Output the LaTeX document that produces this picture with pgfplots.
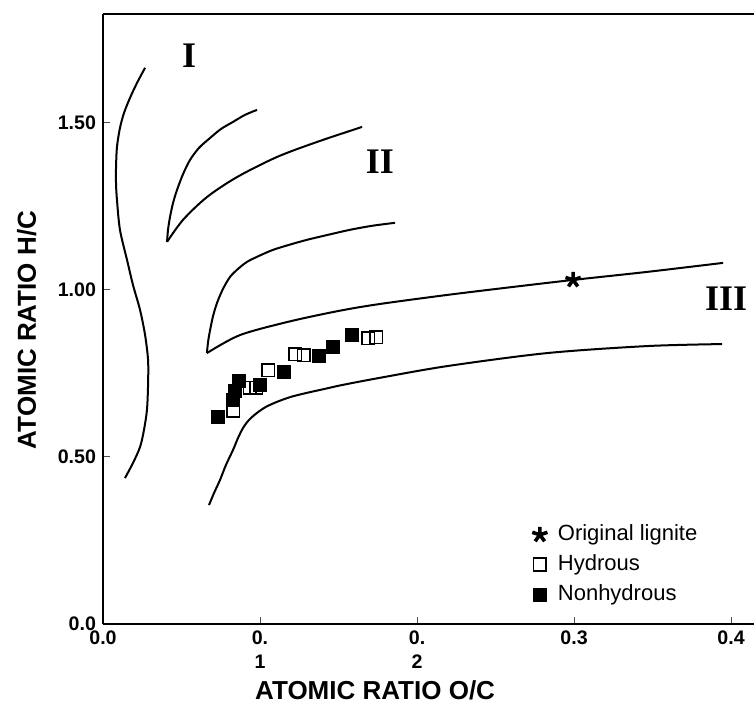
\documentclass[border=0pt]{standalone}
\usepackage{fontspec}
\setmainfont{Liberation Sans}
\newfontfamily\romfont{Liberation Serif}
\usepackage{pgfplots}
\pgfplotsset{compat=1.18}
\begin{document}
\begin{tikzpicture}
\useasboundingbox (-51.5pt,-42.5pt) rectangle (325.5pt,312pt);
\begin{axis}[
 scale only axis, width=325.5pt, height=305pt,
 xmin=0, xmax=0.4146, ymin=0, ymax=1.826,
 axis x line*=box, axis y line*=left,
 axis line style={line width=1.3pt},
 tick pos=left, tick align=inside, major tick length=3.5pt,
 tick style={line width=0.5pt, black!70},
 xtick={0,0.1,0.2,0.3,0.4}, xticklabels={0.0,{0.\\1},{0.\\2},0.3,0.4},
 ytick={0,0.5,1,1.5}, yticklabels={0.0,0.50,1.00,1.50},
 x tick label style={align=center, font=\fontsize{9.8}{12}\selectfont\bfseries},
 y tick label style={font=\fontsize{9.8}{12}\selectfont\bfseries},
 xlabel={ATOMIC RATIO O/C}, ylabel={ATOMIC RATIO H/C},
 label style={font=\fontsize{13}{15}\selectfont\bfseries},
 xlabel style={at={(axis description cs:0.418,-0.108)}, anchor=center},
 ylabel style={at={(axis description cs:-0.117,0.482)}, anchor=center},
 legend style={at={(axis description cs:0.641,0.174)}, anchor=north west, draw=none, fill=none,
   font=\fontsize{11}{13}\selectfont, row sep=2.5pt,
   nodes={inner sep=1pt, text height=8pt, text depth=2.5pt}},
 legend cell align=left,
 legend image code/.code={\path (0,0) (0.45cm,0); \draw[mark repeat=1,#1] plot coordinates {(0.2cm,0cm)};},
 clip=false,
]
% curves
\addplot[smooth, tension=0.5, line width=1pt, forget plot] coordinates {
(0.0268,1.665) (0.0217,1.620) (0.0172,1.575) (0.0134,1.530) (0.0108,1.485) (0.0089,1.428) (0.0083,1.368) (0.0083,1.317) (0.0089,1.269) (0.0108,1.180) (0.0153,1.090) (0.0191,1.015) (0.0236,0.940) (0.0268,0.865) (0.0287,0.790) (0.0287,0.716) (0.0280,0.641) (0.0261,0.581) (0.0236,0.530) (0.0191,0.482) (0.0140,0.437)};
\addplot[smooth, tension=0.5, line width=1pt, forget plot] coordinates {
(0.0408,1.144) (0.0414,1.180) (0.0427,1.219) (0.0446,1.260) (0.0471,1.299) (0.0510,1.347) (0.0554,1.389) (0.0611,1.425) (0.0682,1.455) (0.0752,1.482) (0.0828,1.503) (0.0904,1.524) (0.0981,1.539)};
\addplot[smooth, tension=0.5, line width=1pt, forget plot] coordinates {
(0.0408,1.144) (0.0510,1.210) (0.0662,1.278) (0.0854,1.338) (0.1108,1.398) (0.1363,1.443) (0.1650,1.488)};
\addplot[smooth, tension=0.5, line width=1pt, forget plot] coordinates {
(0.0662,0.811) (0.0669,0.844) (0.0682,0.880) (0.0701,0.922) (0.0726,0.961) (0.0764,1.003) (0.0809,1.039) (0.0860,1.063) (0.0917,1.084) (0.0994,1.102) (0.1083,1.120) (0.1185,1.135) (0.1299,1.150) (0.1433,1.165) (0.1573,1.180) (0.1713,1.192) (0.1860,1.201)};
\addplot[smooth, tension=0.5, line width=1pt, forget plot] coordinates {
(0.0662,0.811) (0.0873,0.865) (0.1191,0.906) (0.1510,0.938) (0.1764,0.958) (0.2191,0.985) (0.2611,1.009) (0.2994,1.030) (0.3465,1.054) (0.3949,1.081)};
\addplot[smooth, tension=0.5, line width=1pt, forget plot] coordinates {
(0.0675,0.356) (0.0707,0.392) (0.0745,0.431) (0.0783,0.476) (0.0828,0.521) (0.0860,0.557) (0.0892,0.587) (0.0930,0.611) (0.0981,0.632) (0.1038,0.650) (0.1108,0.665) (0.1197,0.680) (0.1299,0.692) (0.1414,0.704) (0.1529,0.716) (0.1764,0.737) (0.2191,0.772) (0.2828,0.811) (0.3465,0.832) (0.3943,0.838)};
% data
\addplot[only marks, mark=star, mark size=4pt, line width=1.8pt] coordinates {(0.2994,1.030)};
\addlegendentry{Original lignite}
\addplot[only marks, mark=square, mark size=3.2pt, line width=0.9pt] coordinates {
(0.0828,0.638) (0.0936,0.707) (0.0975,0.707) (0.1051,0.760) (0.1223,0.808) (0.1280,0.805) (0.1688,0.856) (0.1739,0.859)};
\addlegendentry{Hydrous}
\addplot[only marks, mark=square*, mark size=3.2pt, line width=0.5pt, fill=black] coordinates {
(0.0732,0.620) (0.0828,0.671) (0.0841,0.698) (0.0866,0.728) (0.1000,0.716) (0.1153,0.754) (0.1376,0.802) (0.1465,0.829) (0.1586,0.865)};
\addlegendentry{Nonhydrous}
% region labels
\node[font=\romfont\bfseries\fontsize{18}{20}\selectfont] at (axis cs:0.0548,1.70) {I};
\node[font=\romfont\bfseries\fontsize{18}{20}\selectfont] at (axis cs:0.1764,1.385) {II};
\node[font=\romfont\bfseries\fontsize{18}{20}\selectfont] at (axis cs:0.3968,0.975) {III};
\end{axis}
\end{tikzpicture}
\end{document}
